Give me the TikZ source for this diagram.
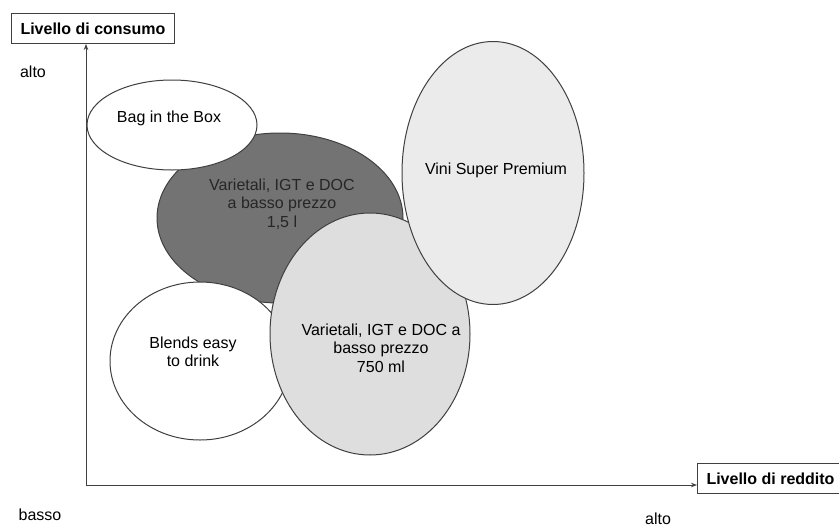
\documentclass[tikz,border=0pt]{standalone}
\usepackage{fontspec}
\setmainfont{Liberation Sans}
\usepackage{tikz}
\definecolor{ScanDarkGray}{rgb}{0.45, 0.45, 0.45}
\definecolor{ScanLightGray}{rgb}{0.87, 0.87, 0.87}
\definecolor{ScanPaleGray}{rgb}{0.92, 0.92, 0.92}
\definecolor{ScanLine}{rgb}{0.25, 0.25, 0.25}
\usetikzlibrary{
	positioning,
	calc,
	arrows.meta,
	shapes.geometric
}

\begin{document}
\begin{tikzpicture}[
		x=1pt, y=-1pt,
		framed/.style={draw=ScanLine, line width=1pt},
		bubble/.style={framed, ellipse, inner sep=0pt},
		bubbletext/.style={align=center, inner sep=0pt, font=\fontsize{16}{18.5}\selectfont},
		axislabel/.style={framed, fill=white, minimum height=30pt, inner xsep=9pt, inner ysep=0pt, font=\bfseries\fontsize{16}{19}\selectfont},
		scalelabel/.style={inner sep=0pt, font=\fontsize{16}{19}\selectfont}
	]
		\fill[white, use as bounding box] (0,0) rectangle (839,528);
		\clip (0,0) rectangle (839,528);

		% bubbles, back to front
		\node[bubble, fill=ScanDarkGray, minimum width=246pt, minimum height=170pt] at (280,218) (lowcost) {};
		\node[bubble, fill=white, minimum width=170pt, minimum height=90pt] at (172,125) (bagbox) {};
		\node[bubble, fill=white, minimum width=180pt, minimum height=158pt] at (200,361) (blends) {};
		\node[bubble, fill=ScanLightGray, minimum width=200pt, minimum height=242pt] at (370,334) (bottle) {};
		\node[bubble, fill=ScanPaleGray, minimum width=182pt, minimum height=263pt] at (493,173) (premium) {};

		\node[bubbletext] at ([yshift=7pt, xshift=-3pt]bagbox.center) (bagboxtext) {Bag in the Box};
		\node[bubbletext, text=black!85] at ([yshift=14pt, xshift=2pt]lowcost.center) (lowcosttext) {Varietali, IGT e DOC\\a basso prezzo\\1,5 l};
		\node[bubbletext] at ([yshift=9pt, xshift=-7pt]blends.center) (blendstext) {Blends easy\\to drink};
		\node[bubbletext] at ([yshift=-14pt, xshift=11pt]bottle.center) (bottletext) {Varietali, IGT e DOC a\\basso prezzo\\750 ml};
		\node[bubbletext] at ([yshift=3pt, xshift=3pt]premium.center) (premiumtext) {Vini Super Premium};

		% axes
		\node[axislabel, anchor=north west] at (11,13) (consumo) {Livello di consumo};
		\node[axislabel, anchor=north west] at (697,463) (reddito) {Livello di reddito};
		\coordinate (origin) at (86,485);

		\begin{scope}[every path/.style={-{Stealth[length=6pt, width=4.5pt]}, draw=ScanLine, line width=1pt}]
			\draw (origin) -- (origin |- consumo.south);
			\draw (origin) -- (origin -| reddito.west);
		\end{scope}

		\node[scalelabel] at (33,72) (consumohigh) {alto};
		\node[scalelabel] at (40,515) (low) {basso};
		\node[scalelabel] at (658,519) (redditohigh) {alto};

	\end{tikzpicture}
\end{document}
